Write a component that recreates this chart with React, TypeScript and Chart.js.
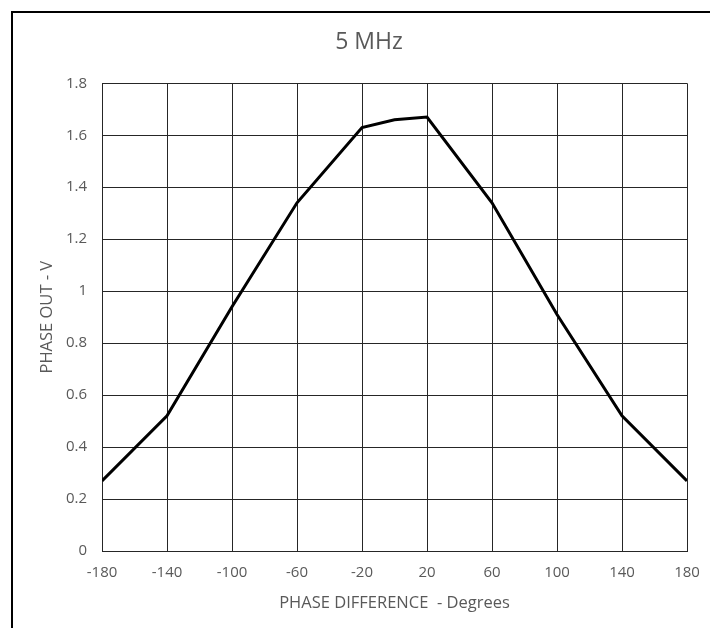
import React, { useEffect, useRef } from 'react';
import { Chart, registerables } from 'chart.js';

Chart.register(...registerables);

// ---- data ----
const phaseDegrees = [-180, -140, -100, -60, -20, 0, 20, 60, 100, 140, 180];
const phaseOutVolts = [0.27, 0.52, 0.94, 1.34, 1.63, 1.66, 1.67, 1.34, 0.91, 0.52, 0.27];

const xTickValues = [-180, -140, -100, -60, -20, 20, 60, 100, 140, 180];
const xTickLabels = ['-180', '-140', '-100', '-60', '-20', '20', '60', '100', '140', '180'];
const yTickValues = [0, 0.2, 0.4, 0.6, 0.8, 1, 1.2, 1.4, 1.6, 1.8];
const yTickLabels = ['0', '0.2', '0.4', '0.6', '0.8', '1', '1.2', '1.4', '1.6', '1.8'];

const chartTitle = '5 MHz';
const xAxisTitle = 'PHASE DIFFERENCE  - Degrees';
const yAxisTitle = 'PHASE OUT - V';

const FONT = '"Open Sans", "Liberation Sans", sans-serif';
const TEXT = '#595959';
const GRID = '#262626';

export default function App() {
  const ref = useRef<HTMLCanvasElement>(null);

  useEffect(() => {
    document.body.style.margin = '0';
    const canvas = ref.current;
    if (!canvas) return;
    const chart = new Chart(canvas, {
      type: 'line',
      data: {
        datasets: [
          {
            data: phaseDegrees.map((x, i) => ({ x, y: phaseOutVolts[i] })),
            borderColor: '#000000',
            borderWidth: 3,
            pointRadius: 0,
            tension: 0,
            fill: false,
            yAxisID: 'y',
          },
        ],
      },
      options: {
        responsive: false,
        animation: false,
        devicePixelRatio: 1,
        layout: { padding: 0 },
        plugins: {
          legend: { display: false },
          tooltip: { enabled: false },
          title: {
            display: true,
            text: chartTitle,
            color: TEXT,
            font: { family: FONT, size: 23, weight: 'normal' },
            padding: { top: 15.5, bottom: 27.2 },
          },
        },
        scales: {
          x: {
            type: 'linear',
            min: -180,
            max: 180,
            afterBuildTicks: (s: any) => {
              s.ticks = xTickValues.map((v) => ({ value: v }));
            },
            afterFit: (s: any) => {
              s.height = 77;
            },
            grid: { color: GRID, lineWidth: 1, drawTicks: false },
            border: { color: GRID, width: 1 },
            ticks: {
              color: TEXT,
              font: { family: FONT, size: 15 },
              padding: 13,
              maxRotation: 0,
              autoSkip: false,
              callback: (_v: any, i: number) => xTickLabels[i],
            },
            title: {
              display: true,
              text: xAxisTitle,
              color: TEXT,
              font: { family: FONT, size: 16.5 },
              padding: { top: 0, bottom: 14.8 },
            },
          },
          y: {
            type: 'linear',
            position: 'left',
            min: 0,
            max: 1.8,
            afterBuildTicks: (s: any) => {
              s.ticks = yTickValues.map((v) => ({ value: v }));
            },
            afterFit: (s: any) => {
              s.width = 89;
            },
            grid: { color: GRID, lineWidth: 1, drawTicks: false },
            border: { color: GRID, width: 1 },
            ticks: {
              color: TEXT,
              font: { family: FONT, size: 15 },
              padding: 15,
              autoSkip: false,
              callback: (_v: any, i: number) => yTickLabels[i],
            },
            title: {
              display: true,
              text: yAxisTitle,
              color: TEXT,
              font: { family: FONT, size: 16.5 },
              padding: { top: 24.6, bottom: 0 },
            },
          },
          yRight: {
            type: 'linear',
            position: 'right',
            display: true,
            grid: { display: false, drawTicks: false },
            border: { display: false },
            ticks: { display: false },
            afterFit: (s: any) => {
              s.width = 38;
            },
          },
        },
      },
    });
    return () => chart.destroy();
  }, []);

  return (
    <div style={{ position: 'relative', width: 710, height: 628, overflow: 'hidden', background: '#fff' }}>
      <div
        style={{
          position: 'absolute',
          left: 11,
          top: 11,
          width: 800,
          height: 800,
          border: '2px solid #000',
          boxSizing: 'border-box',
        }}
      />
      <canvas
        ref={ref}
        width={712}
        height={615}
        style={{ position: 'absolute', left: 13, top: 13, width: 712, height: 615 }}
      />
    </div>
  );
}
